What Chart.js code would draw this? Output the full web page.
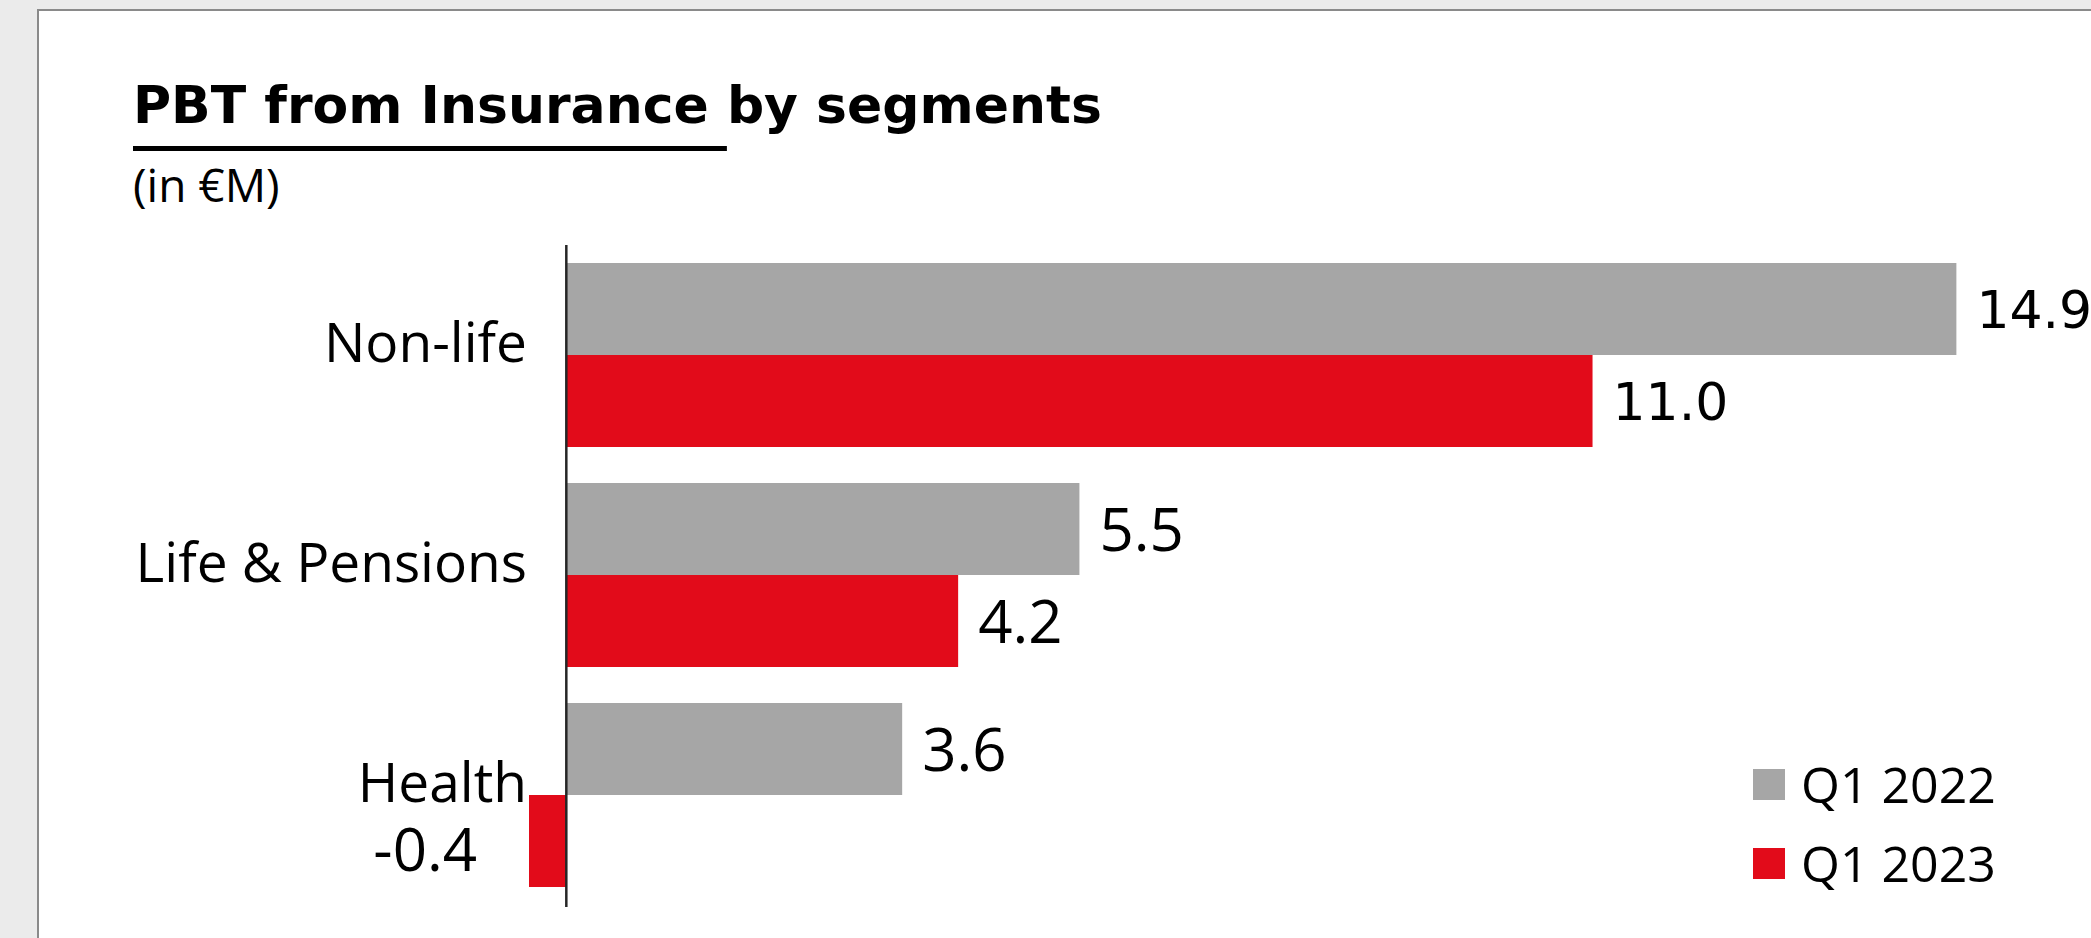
<!DOCTYPE html>
<html>
<head>
<meta charset="utf-8">
<script src="https://cdn.jsdelivr.net/npm/chart.js@4.4.1/dist/chart.umd.min.js"></script>
<style>
  html, body { margin: 0; padding: 0; width: 2091px; height: 938px; overflow: hidden; background: #ebebeb; }
  .panel { position: absolute; left: 37px; top: 9px; width: 2200px; height: 1000px; background: #fff; border: 2px solid #8a8a8a; box-sizing: border-box; }
  .title { position: absolute; left: 133px; top: 79px; margin: 0; font: bold 52px/52px "DejaVu Sans", sans-serif; color: #000; white-space: nowrap; }
  .title u { text-decoration: underline; text-decoration-thickness: 5px; text-underline-offset: 23px; }
  .unit { position: absolute; left: 133px; top: 161px; font: 46px/46px "Open Sans", sans-serif; color: #000; }
  #chart { position: absolute; left: 0; top: 0; }
  .legend { position: absolute; left: 1753px; top: 745px; font: 50px/79px "Open Sans", sans-serif; color: #000; }
  .legend div { display: flex; align-items: center; height: 79px; }
  .legend span { display: inline-block; width: 32px; height: 31px; margin-right: 16px; }
</style>
</head>
<body>
<div class="panel"></div>
<h1 class="title"><u>PBT from Insurance </u>by segments</h1>
<div class="unit">(in €M)</div>
<canvas id="chart" width="2091" height="938"></canvas>
<div class="legend" id="legend"></div>
<script>
  const segments = ['Non-life', 'Life & Pensions', 'Health'];
  const seriesNames = ['Q1 2022', 'Q1 2023'];
  const q1_2022 = [14.9, 5.5, 3.6];
  const q1_2023 = [11.0, 4.2, -0.4];
  const xMin = -0.4;
  const xMax = 16;

  const GREY = '#a6a6a6';
  const RED = '#e20b1a';

  // vertical line at zero, a little past the bottom of the plot
  const zeroLine = {
    id: 'zeroLine',
    afterDatasetsDraw(chart) {
      const { ctx, chartArea } = chart;
      const x = chart.scales.x.getPixelForValue(0);
      ctx.save();
      ctx.strokeStyle = '#262626';
      ctx.lineWidth = 2.5;
      ctx.beginPath();
      ctx.moveTo(x, chartArea.top);
      ctx.lineTo(x, chartArea.bottom + 2);
      ctx.stroke();
      ctx.restore();
    }
  };

  // numbers next to each bar; the negative one sits left of its bar
  const valueLabels = {
    id: 'valueLabels',
    afterDatasetsDraw(chart) {
      const { ctx } = chart;
      ctx.save();
      ctx.fillStyle = '#000';
      ctx.textBaseline = 'alphabetic';
      chart.data.datasets.forEach((ds, di) => {
        chart.getDatasetMeta(di).data.forEach((bar, i) => {
          const v = ds.data[i];
          const size = i === 0 ? 52 : 60;
          ctx.font = i === 0 ? `${size}px "DejaVu Sans"` : `${size}px "Open Sans"`;
          const text = v.toFixed(1);
          if (v < 0) {
            ctx.textAlign = 'right';
            ctx.fillText(text, bar.x - 52, bar.y + 8 + size * 0.36);
          } else {
            ctx.textAlign = 'left';
            ctx.fillText(text, bar.x + 20, bar.y + size * 0.36);
          }
        });
      });
      ctx.restore();
    }
  };

  const chart = new Chart(document.getElementById('chart'), {
    type: 'bar',
    data: {
      labels: segments,
      datasets: [
        { label: seriesNames[0], data: q1_2022, backgroundColor: GREY },
        { label: seriesNames[1], data: q1_2023, backgroundColor: RED }
      ]
    },
    options: {
      indexAxis: 'y',
      responsive: false,
      animation: false,
      datasets: { bar: { categoryPercentage: 0.836, barPercentage: 1, borderWidth: 0 } },
      layout: { padding: { top: 245, bottom: 33, left: 0, right: 32 } },
      plugins: { legend: { display: false }, tooltip: { enabled: false } },
      scales: {
        x: {
          min: xMin,
          max: xMax,
          ticks: { display: false },
          border: { display: false },
          grid: { display: false, drawTicks: false },
          afterFit: (axis) => { axis.height = 0; }
        },
        y: {
          ticks: {
            color: '#000',
            padding: 2,
            labelOffset: -9,
            font: { family: '"Open Sans"', size: 55 }
          },
          grid: { display: false, drawTicks: false },
          border: { display: false },
          afterFit: (axis) => {
            axis.width = 529;
            axis.paddingTop = 0;
            axis.paddingBottom = 0;
          }
        }
      }
    },
    plugins: [zeroLine, valueLabels]
  });

  // legend rows built from the datasets
  const legend = document.getElementById('legend');
  chart.data.datasets.forEach((ds) => {
    const row = document.createElement('div');
    const swatch = document.createElement('span');
    swatch.style.background = ds.backgroundColor;
    row.appendChild(swatch);
    row.appendChild(document.createTextNode(ds.label));
    legend.appendChild(row);
  });
</script>
</body>
</html>
